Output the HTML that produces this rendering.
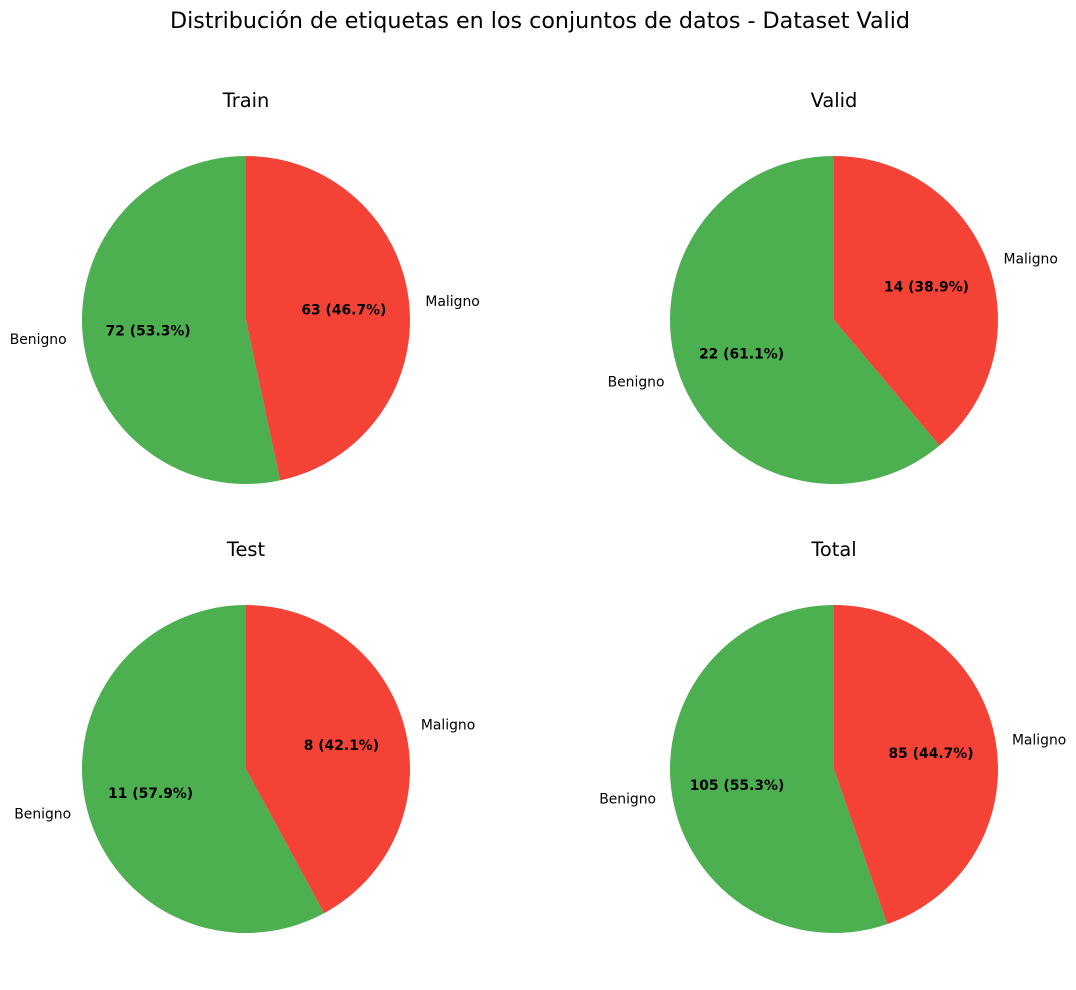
<!DOCTYPE html>
<html><head><meta charset="utf-8">
<style>
body{margin:0;background:#fff;width:1076px;height:985px;overflow:hidden}
svg text{font-family:"DejaVu Sans","Liberation Sans",sans-serif}
</style></head>
<body>
<svg id="fig" width="1076" height="985" viewBox="0 0 1076 985" xmlns="http://www.w3.org/2000/svg">
<text x="540" y="28" text-anchor="middle" font-size="22.2" fill="#000">Distribución de etiquetas en los conjuntos de datos - Dataset Valid</text>
</svg>
<script>
const panelTitles = ["Train", "Valid", "Test", "Total"];
const categories = ["Benigno", "Maligno"];
const benignoCounts = [72, 22, 11, 105];
const malignoCounts = [63, 14, 8, 85];
const sliceColors = ["#4caf50", "#f44336"];

const centers = [[246,320],[834,320],[246,769],[834,769]];
const R = 164;
const svg = document.getElementById('fig');
const NS = 'http://www.w3.org/2000/svg';
function mk(tag, attrs){const e=document.createElementNS(NS,tag);for(const k in attrs)e.setAttribute(k,attrs[k]);return e;}

panelTitles.forEach((title, i) => {
  const [cx, cy] = centers[i];
  const g = mk('g', {});
  
  
  svg.appendChild(g);
  const t = mk('text', {x: cx, y: cy - 213, 'text-anchor': 'middle', 'font-size': 19.4, fill: '#000'});
  t.textContent = title;
  
  
  g.appendChild(t);
  const vals = [benignoCounts[i], malignoCounts[i]];
  const total = vals[0] + vals[1];
  let a = 90;
  vals.forEach((v, j) => {
    const span = v / total * 360;
    const a1 = a, a2 = a + span;
    const r1 = a1 * Math.PI / 180, r2 = a2 * Math.PI / 180;
    const x1 = cx + R * Math.cos(r1), y1 = cy - R * Math.sin(r1);
    const x2 = cx + R * Math.cos(r2), y2 = cy - R * Math.sin(r2);
    const large = span > 180 ? 1 : 0;
    const p = mk('path', {d: `M${cx},${cy} L${x1},${y1} A${R},${R} 0 ${large} 0 ${x2},${y2} Z`, fill: sliceColors[j]});
    
    
    g.appendChild(p);
    const mid = (a1 + a2) / 2 * Math.PI / 180;
    const lx = cx + 1.1 * R * Math.cos(mid), ly = cy - 1.1 * R * Math.sin(mid);
    const lab = mk('text', {x: lx, y: ly + 5, 'text-anchor': Math.cos(mid) >= 0 ? 'start' : 'end', 'font-size': 13.9, fill: '#000'});
    lab.textContent = categories[j];
    
    
    g.appendChild(lab);
    const px = cx + 0.6 * R * Math.cos(mid), py = cy - 0.6 * R * Math.sin(mid);
    const pct = mk('text', {x: px, y: py + 5, 'text-anchor': 'middle', 'font-size': 13.9, 'font-weight': 'bold', fill: '#000'});
    pct.textContent = v + ' (' + (v / total * 100).toFixed(1) + '%)';
    
    
    g.appendChild(pct);
    a = a2;
  });
});
</script>
</body></html>
